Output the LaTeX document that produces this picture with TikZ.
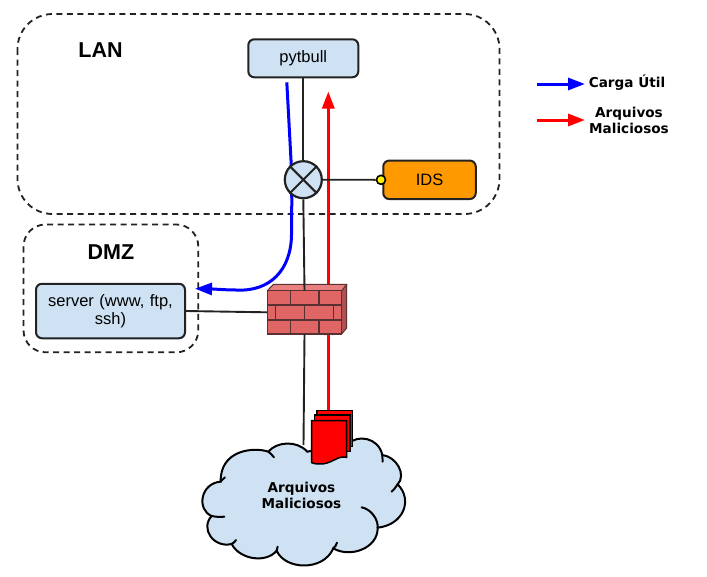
\documentclass[tikz,border=0pt]{standalone}
\usepackage{fontspec}
\setmainfont{Liberation Sans}
\newfontfamily\legendfont{DejaVu Sans}
\usetikzlibrary{arrows.meta}
\definecolor{paleblue}{HTML}{CFE2F3}
\definecolor{brick}{HTML}{E06666}
\definecolor{bricktop}{HTML}{E88080}
\definecolor{brickside}{HTML}{B05050}
\definecolor{mortar}{HTML}{5A3030}
\definecolor{edgegray}{HTML}{222222}
\definecolor{idsorange}{HTML}{FF9900}
\pgfdeclarelayer{lzero}\pgfdeclarelayer{lone}\pgfdeclarelayer{ltwo}
\pgfsetlayers{lzero,lone,ltwo,main}
\tikzset{
  zone/.style={draw=edgegray,line width=1.8pt,dash pattern=on 6pt off 4.5pt},
  boxnode/.style={draw=edgegray,line width=2pt,fill=paleblue,rounded corners=6pt,inner sep=0pt,align=center,font=\fontsize{16.5}{18.5}\selectfont},
  link/.style={draw=edgegray,line width=1.9pt},
  bluearrow/.style={draw=blue,line width=3pt,-{Triangle[length=17pt,width=12pt]}},
  redarrow/.style={draw=red,line width=3pt,-{Triangle[length=17pt,width=12pt]}},
  zonelabel/.style={font=\fontsize{21.5}{24}\selectfont\bfseries},
  legendlabel/.style={font=\legendfont\fontsize{13.6}{16}\selectfont\bfseries,align=center,inner sep=0pt},
  bricks/.style={draw=mortar,line width=1.4pt},
  docsheet/.style={draw=black,line width=1.5pt,fill=red},
}
\begin{document}
\begin{tikzpicture}[x=1pt,y=-1pt]
\useasboundingbox (0,0) rectangle (707,576);

% nodes
\node[boxnode,minimum width=110pt,minimum height=38pt] (pytbull) at (303.3,58.3) {pytbull};
\node[boxnode,minimum width=149pt,minimum height=54.5pt,text width=140pt] (server) at (110.5,311) {server (www, ftp,\\ssh)};
\node[boxnode,fill=idsorange,minimum width=92.5pt,minimum height=38.5pt] (ids) at (429.5,179.8) {IDS};
\node[circle,draw=black,line width=1.6pt,fill=yellow,minimum size=9pt,inner sep=0pt] (port) at (381,179.8) {};
\node[circle,draw=edgegray,line width=2.2pt,fill=paleblue,minimum size=37pt,inner sep=0pt] (switch) at (303.3,179.7) {};
\draw[edgegray,line width=2pt] (switch.north west) -- (switch.south east) (switch.north east) -- (switch.south west);
\node[minimum width=74.4pt,minimum height=43.3pt,inner sep=0pt] (firewall) at (304.5,312.3) {};

\node[zonelabel] (lan) at (100.5,50.5) {LAN};
\node[zonelabel] (dmz) at (111,252) {DMZ};
\coordinate (cloudtop) at (303.5,445);
\coordinate (doctop) at (328.3,410);
\coordinate (redtip) at (328.3,91.5);
\coordinate (bluestart) at (286.8,82.3);
\coordinate (bluetip) at (195,288.7);

\begin{pgfonlayer}{lzero}
  \draw[zone,rounded corners=35pt] (17.5,14) rectangle (499.5,214);
  \draw[zone,rounded corners=22pt] (23.5,224.5) rectangle (198.3,352.3);
  \draw[redarrow] (doctop) -- (redtip);
  \draw[bluearrow] (bluestart) -- (291,160) -- (291.8,200) -- (291.5,235)
     .. controls (291,270) and (270,292) .. (236,290)
     .. controls (225,290) and (215,289) .. (bluetip);
\end{pgfonlayer}

\begin{pgfonlayer}{lone}
  \fill[bricktop] (267.3,290.7) -- (273.5,284.3) -- (346.7,284.3) -- (341.7,290.7) -- cycle;
  \fill[brickside] (341.7,290.7) -- (346.7,284.3) -- (346.7,328) -- (341.7,334) -- cycle;
  \fill[brick] (267.3,290.7) rectangle (341.7,334);
  \draw[bricks] (267.3,290.7) rectangle (341.7,334);
  \draw[bricks] (267.3,305) -- (341.7,305) (267.3,320) -- (341.7,320);
  \draw[bricks] (290.7,290.7) -- (290.7,305) (319,290.7) -- (319,305)
     (275.7,305) -- (275.7,320) (304.3,305) -- (304.3,320) (333.3,305) -- (333.3,320)
     (290.7,320) -- (290.7,334) (319,320) -- (319,334);
  \draw[bricks,line width=1pt] (267.3,290.7) -- (273.5,284.3) -- (346.7,284.3) -- (341.7,290.7)
     (346.7,284.3) -- (346.7,328) -- (341.7,334);
\end{pgfonlayer}

\begin{pgfonlayer}{ltwo}
  \draw[link] (pytbull.south) -- (switch.north);
  \draw[link] (switch.south) -- (firewall.north);
  \draw[link] (firewall.south) -- (cloudtop);
  \draw[link] (switch.east) -- (port.west);
  \draw[link] (server.east) -- (firewall.west);
\end{pgfonlayer}

% cloud
\begin{scope}[x=.3333pt,y=-.3333pt,shift={(190pt,-400pt)}]
  \draw[draw=black,line width=2pt,fill=paleblue]
    (352,155) .. controls (320,120) and (260,125) .. (235,155)
    .. controls (190,140) and (90,150) .. (92,245)
    .. controls (30,250) and (20,330) .. (65,348)
    .. controls (30,385) and (70,445) .. (125,432)
    .. controls (150,480) and (230,490) .. (260,452)
    .. controls (285,510) and (400,515) .. (430,445)
    .. controls (480,475) and (565,445) .. (563,383)
    .. controls (640,375) and (670,300) .. (623,253)
    .. controls (650,225) and (620,170) .. (577,165)
    .. controls (565,110) and (500,105) .. (478,130)
    -- cycle;
  \draw[black,line width=2pt,line cap=round]
    (235,155) .. controls (240,160) and (248,165) .. (252,172)
    (92,245) .. controls (92,240) and (98,240) .. (105,232)
    (65,348) .. controls (75,350) and (90,352) .. (103,350)
    (125,432) .. controls (130,430) and (135,425) .. (138,420)
    (260,452) .. controls (260,448) and (262,445) .. (263,440)
    (430,445) .. controls (435,440) and (440,435) .. (441,428)
    (563,383) .. controls (565,360) and (545,328) .. (515,322)
    (623,253) .. controls (618,262) and (610,270) .. (605,275)
    (577,165) .. controls (577,172) and (578,178) .. (578,185);
  % documents
  \draw[docsheet] (381,31) rectangle (488,140);
  \draw[docsheet] (373,45) rectangle (480,155);
  \draw[docsheet] (365,62) -- (470,62) -- (470,172)
    .. controls (440,165) and (425,195) .. (385,192)
    .. controls (375,192) and (370,190) .. (365,188) -- cycle;
\end{scope}
\node[legendlabel] (cloudlabel) at (301.5,495) {Arquivos\\Maliciosos};

% legend
\coordinate (legblueA) at (537,84);
\coordinate (legblueB) at (585,84);
\coordinate (legredA) at (537,120);
\coordinate (legredB) at (585,120);
\draw[bluearrow] (legblueA) -- (legblueB);
\draw[redarrow] (legredA) -- (legredB);
\node[legendlabel] (legcarga) at (627,83) {Carga Útil};
\node[legendlabel] (legarq) at (629,120) {Arquivos\\Maliciosos};
\end{tikzpicture}
\end{document}
